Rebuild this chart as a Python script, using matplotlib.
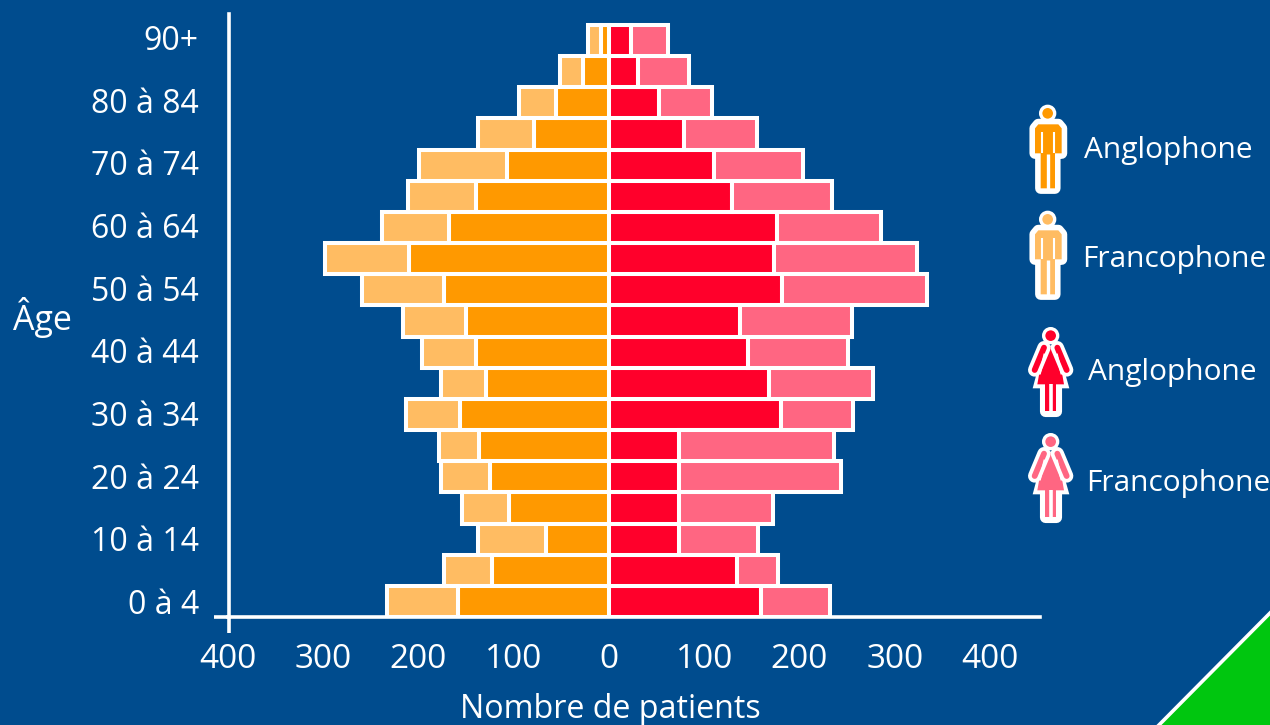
import matplotlib
matplotlib.use("Agg")
import matplotlib.pyplot as plt
from matplotlib.patches import Polygon, Circle

# ---- data (patients per age class, from youngest to oldest) ----
ages = ["0 à 4", "5 à 9", "10 à 14", "15 à 19", "20 à 24", "25 à 29", "30 à 34", "35 à 39",
        "40 à 44", "45 à 49", "50 à 54", "55 à 59", "60 à 64", "65 à 69", "70 à 74",
        "75 à 79", "80 à 84", "85 à 89", "90+"]
men_anglo = [159, 123, 66, 105, 125, 137, 156, 129, 140, 150, 173, 210, 168, 140, 107, 79, 56, 27, 8]
men_franco = [74, 50, 72, 49, 51, 41, 57, 47, 56, 66, 86, 88, 70, 71, 92, 59, 39, 24, 14]
women_anglo = [160, 134, 74, 74, 74, 74, 181, 168, 146, 138, 182, 173, 176, 129, 110, 79, 53, 30, 23]
women_franco = [72, 43, 82, 98, 170, 162, 75, 109, 105, 117, 152, 150, 110, 105, 94, 76, 55, 54, 39]
x_ticks = [-400, -300, -200, -100, 0, 100, 200, 300, 400]
x_tick_labels = ["400", "300", "200", "100", "0", "100", "200", "300", "400"]
legend_labels = ["Anglophone", "Francophone", "Anglophone", "Francophone"]

BG = "#004C8E"
ORANGE = "#FF9900"
LIGHT_ORANGE = "#FFBC62"
RED = "#FF002B"
PINK = "#FF6682"
GREEN = "#00C60F"
WHITE = "white"
FONT = "Open Sans"

W, H = 1270, 725
plt.rcParams["font.family"] = [FONT, "DejaVu Sans"]
fig = plt.figure(figsize=(W / 100, H / 100), dpi=100, facecolor=BG)

# overlay in pixel coordinates for decoration
deco = fig.add_axes([0, 0, 1, 1], zorder=1)
deco.set_xlim(0, W)
deco.set_ylim(H, 0)
deco.axis("off")

# main axes
L, R, T, B = 228, 1040, 14, 617
ax = fig.add_axes([L / W, 1 - B / H, (R - L) / W, (B - T) / H], zorder=2)
ax.patch.set_alpha(0)
ax.set_xlim(-400, (R - 609) / 0.9525)
ax.set_ylim(-0.5, (B - T) / 31.16 - 0.5)

y = list(range(len(ages)))
bar_kw = dict(height=1.0, edgecolor=WHITE, linewidth=2.9)
ax.barh(y, [-v for v in men_anglo], color=ORANGE, **bar_kw)
ax.barh(y, [-v for v in men_franco], left=[-v for v in men_anglo], color=LIGHT_ORANGE, **bar_kw)
ax.barh(y, women_anglo, color=RED, **bar_kw)
ax.barh(y, women_franco, left=women_anglo, color=PINK, **bar_kw)

for s in ("top", "right"):
    ax.spines[s].set_visible(False)
for s in ("left", "bottom"):
    ax.spines[s].set_color(WHITE)
    ax.spines[s].set_linewidth(2.6)
ax.spines["left"].set_position(("outward", -1.0))
ax.set_xticks(x_ticks, x_tick_labels)
# the labels of the reference sit on a very slightly wider pitch than the rows
ax.set_yticks([i * 1.0055 for i in y[::2]], ages[::2])
ax.tick_params(axis="x", length=0, pad=19, labelcolor=WHITE, labelsize=24)
ax.tick_params(axis="y", length=0, pad=22, labelcolor=WHITE, labelsize=23)
ax.set_xlabel("Nombre de patients", color=WHITE, fontsize=23.2)
ax.xaxis.set_label_coords((610 - L) / (R - L), (B - 709) / (B - T), transform=ax.transAxes)
ax.xaxis.label.set_va("center")
ax.set_ylabel("Âge", color=WHITE, fontsize=24.5, rotation=0, ha="center", va="center")
ax.yaxis.set_label_coords((42.5 - L) / (R - L), (B - 318) / (B - T), transform=ax.transAxes)

# axis overhangs
deco.plot([214, 229.4], [B, B], color=WHITE, lw=2.6, solid_capstyle="butt")
deco.plot([229.4, 229.4], [B, 633], color=WHITE, lw=2.6, solid_capstyle="butt")

# green corner
deco.add_patch(Polygon([(1157, H + 2), (W + 3, 610), (W + 3, H + 2)], closed=True,
                       facecolor=GREEN, edgecolor=WHITE, linewidth=2.6))


def man(ox, oy, color):
    """Icon from a crop-based outline, 3 units = 1 pixel."""
    pts = [(75, 115), (85, 103), (145, 103), (155, 115), (155, 190), (135, 190),
           (135, 295), (92, 295), (92, 190), (75, 190)]
    p = [(ox + a / 3, oy + b / 3) for a, b in pts]
    deco.add_patch(Polygon(p, closed=True, facecolor=color, edgecolor=WHITE, linewidth=8.0, joinstyle="round"))
    deco.add_patch(Polygon(p, closed=True, facecolor=color, edgecolor="none"))
    for xa, ya, xb, yb, w in [(95, 125, 95, 190, 1.5), (132.5, 125, 132.5, 190, 1.5), (113.5, 192, 113.5, 304, 2.4)]:
        deco.plot([ox + xa / 3, ox + xb / 3], [oy + ya / 3, oy + yb / 3], color=WHITE, lw=w, solid_capstyle="butt")
    deco.add_patch(Circle((ox + 113 / 3, oy + 70 / 3), 7, facecolor=color, edgecolor=WHITE, linewidth=2.4))


def woman(ox, oy, color):
    dress = [(102, 95), (142, 95), (162, 208), (82, 208)]
    legs = [(105, 208), (139, 208), (139, 288), (105, 288)]
    arm_l = [(102, 98), (74, 165)]
    arm_r = [(142, 98), (170, 165)]
    conv = lambda q: [(ox + a / 3, oy + b / 3) for a, b in q]
    deco.add_patch(Polygon(conv(legs), closed=True, facecolor=WHITE, edgecolor=WHITE, linewidth=8.0, joinstyle="round"))
    deco.add_patch(Polygon(conv([(102, 92), (142, 92), (178, 220), (68, 220)]), closed=True,
                           facecolor=WHITE, edgecolor="none"))
    for q in (arm_l, arm_r):
        deco.plot(*zip(*conv(q)), color=WHITE, lw=9.6, solid_capstyle="round")
    for q in (arm_l, arm_r):
        deco.plot(*zip(*conv(q)), color=color, lw=4.2, solid_capstyle="round")
    deco.add_patch(Polygon(conv(dress), closed=True, facecolor=color, edgecolor="none"))
    deco.add_patch(Polygon(conv(legs), closed=True, facecolor=color, edgecolor="none"))
    for xa, ya, xb, yb, w in [(104, 116, 89, 178, 1.5), (140, 116, 155, 178, 1.5), (122, 208, 122, 298, 2.6)]:
        deco.plot([ox + xa / 3, ox + xb / 3], [oy + ya / 3, oy + yb / 3], color=WHITE, lw=w, solid_capstyle="butt")
    deco.add_patch(Circle((ox + 122 / 3, oy + 62 / 3), 7, facecolor=color, edgecolor=WHITE, linewidth=2.4))


man(1010, 90, ORANGE)
man(1010, 196, LIGHT_ORANGE)
woman(1010, 315, RED)
woman(1010, 421, PINK)
for (tx, ty), lab in zip([(1084, 150), (1082, 259), (1088, 372), (1086, 483)], legend_labels):
    deco.text(tx, ty, lab, color=WHITE, fontsize=21.5, ha="left", va="center")

fig.savefig("out.png", dpi=100, facecolor=BG)
